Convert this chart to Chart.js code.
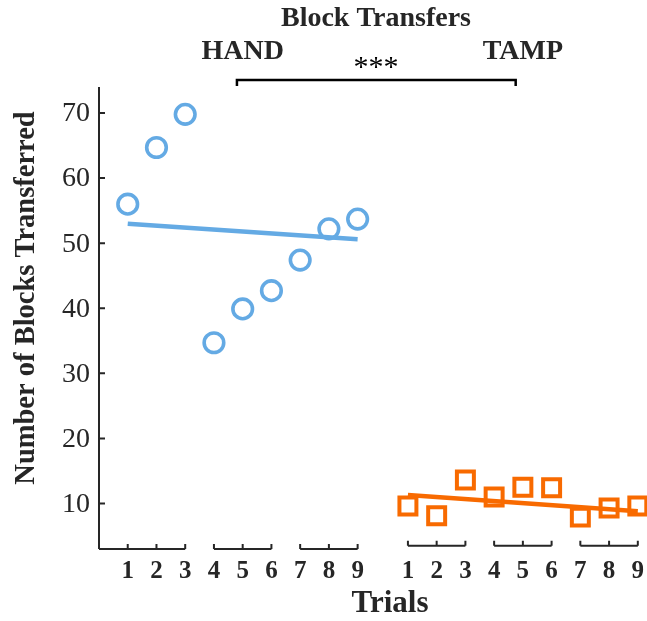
<!DOCTYPE html>
<html>
<head>
<meta charset="utf-8">
<script src="https://cdn.jsdelivr.net/npm/chart.js@4.4.0/dist/chart.umd.min.js"></script>
<style>
html, body { margin: 0; padding: 0; background: #fff; }
</style>
</head>
<body>
<canvas id="c" width="647" height="621"></canvas>
<script>
// values
const trials = [1, 2, 3, 4, 5, 6, 7, 8, 9];
const handBlocks = [56.0, 64.7, 69.8, 34.7, 39.9, 42.7, 47.4, 52.2, 53.7];
const tampBlocks = [9.6, 8.1, 13.6, 11.0, 12.5, 12.4, 7.9, 9.3, 9.6];
const handFit = [53.0, 50.6];   // fitted line at trial 1 and trial 9
const tampFit = [11.3, 8.8];
const yTicks = [10, 20, 30, 40, 50, 60, 70];
const trialGroups = [[1, 3], [4, 6], [7, 9]];
const groupNames = ['HAND', 'TAMP'];

const TAMP_OFFSET = 9.75;   // TAMP trials sit to the right of the HAND trials
const BLUE = '#64aae4';
const ORANGE = '#f86a00';
const INK = '#262626';
const SERIF = '"Liberation Serif", "Times New Roman", serif';

const axesPlugin = {
    id: 'matlabAxes',
    afterDraw: chart => {
        const ctx = chart.ctx;
        const xs = chart.scales.x;
        const ys = chart.scales.y;
        const area = chart.chartArea;
        const px = v => xs.getPixelForValue(v);
        const py = v => ys.getPixelForValue(v);
        ctx.save();
        ctx.strokeStyle = INK;
        ctx.fillStyle = INK;
        ctx.lineWidth = 2;

        // y axis with inward ticks
        ctx.beginPath();
        ctx.moveTo(area.left, area.top);
        ctx.lineTo(area.left, area.bottom);
        yTicks.forEach(t => {
            ctx.moveTo(area.left, py(t));
            ctx.lineTo(area.left + 6, py(t));
        });
        ctx.stroke();
        ctx.font = '28px ' + SERIF;
        ctx.textAlign = 'right';
        ctx.textBaseline = 'middle';
        yTicks.forEach(t => ctx.fillText(String(t), area.left - 9, py(t) + 1));

        // broken x axis: one short segment per group of three trials
        [0, TAMP_OFFSET].forEach((off, gi) => {
            const base = gi === 0 ? area.bottom : area.bottom - 3.3;
            trialGroups.forEach((g, k) => {
                const x0 = (gi === 0 && k === 0) ? area.left : px(g[0] + off);
                ctx.beginPath();
                ctx.moveTo(x0, base);
                ctx.lineTo(px(g[1] + off), base);
                for (let t = g[0]; t <= g[1]; t++) {
                    ctx.moveTo(px(t + off), base);
                    ctx.lineTo(px(t + off), base - 5);
                }
                ctx.stroke();
            });
            ctx.font = 'bold 25px ' + SERIF;
            ctx.textAlign = 'center';
            ctx.textBaseline = 'middle';
            trials.forEach(t => ctx.fillText(String(t), px(t + off), 572));
            // group name above the plot
            ctx.font = 'bold 28px ' + SERIF;
            ctx.fillText(groupNames[gi], px(5 + off), 52);
        });

        ctx.font = 'bold 31px ' + SERIF;
        ctx.fillText('Trials', 390, 604);
        ctx.font = 'bold 28px ' + SERIF;
        ctx.fillText('Block Transfers', 376, 19);

        // significance bracket
        ctx.lineWidth = 2.5;
        ctx.strokeStyle = '#000';
        ctx.beginPath();
        ctx.moveTo(px(4.8), 86);
        ctx.lineTo(px(4.8), 80);
        ctx.lineTo(px(14.5), 80);
        ctx.lineTo(px(14.5), 86);
        ctx.stroke();
        ctx.font = '30px ' + SERIF;
        ctx.fillStyle = '#000';
        ctx.fillText('***', 376, 68);

        // y title
        ctx.translate(27, 298);
        ctx.rotate(-Math.PI / 2);
        ctx.font = 'bold 28.5px ' + SERIF;
        ctx.fillStyle = INK;
        ctx.fillText('Number of Blocks Transferred', 0, 0);
        ctx.restore();
    }
};

new Chart(document.getElementById('c'), {
    type: 'scatter',
    data: {
        datasets: [
            {
                label: 'HAND fit',
                data: [{ x: trials[0], y: handFit[0] }, { x: trials[8], y: handFit[1] }],
                showLine: true,
                borderColor: BLUE,
                borderWidth: 4.5,
                pointRadius: 0,
                order: 1
            },
            {
                label: 'TAMP fit',
                data: [{ x: trials[0] + TAMP_OFFSET, y: tampFit[0] }, { x: trials[8] + TAMP_OFFSET, y: tampFit[1] }],
                showLine: true,
                borderColor: ORANGE,
                borderWidth: 4.5,
                pointRadius: 0,
                order: 1
            },
            {
                label: 'HAND',
                data: trials.map((t, i) => ({ x: t, y: handBlocks[i] })),
                pointStyle: 'circle',
                pointRadius: 9.8,
                pointBorderWidth: 3.6,
                borderColor: BLUE,
                backgroundColor: 'rgba(0,0,0,0)',
                order: 2
            },
            {
                label: 'TAMP',
                data: trials.map((t, i) => ({ x: t + TAMP_OFFSET, y: tampBlocks[i] })),
                pointStyle: 'rect',
                pointRadius: 12,
                pointBorderWidth: 4,
                borderColor: ORANGE,
                backgroundColor: 'rgba(0,0,0,0)',
                order: 2
            }
        ]
    },
    options: {
        responsive: false,
        animation: false,
        clip: false,
        layout: { autoPadding: false, padding: { left: 99, top: 87, right: 2, bottom: 72 } },
        plugins: {
            legend: { display: false },
            tooltip: { enabled: false }
        },
        scales: {
            x: { type: 'linear', min: 0, max: 19, display: false },
            y: { min: 3, max: 74, display: false }
        }
    },
    plugins: [axesPlugin]
});
</script>
</body>
</html>
